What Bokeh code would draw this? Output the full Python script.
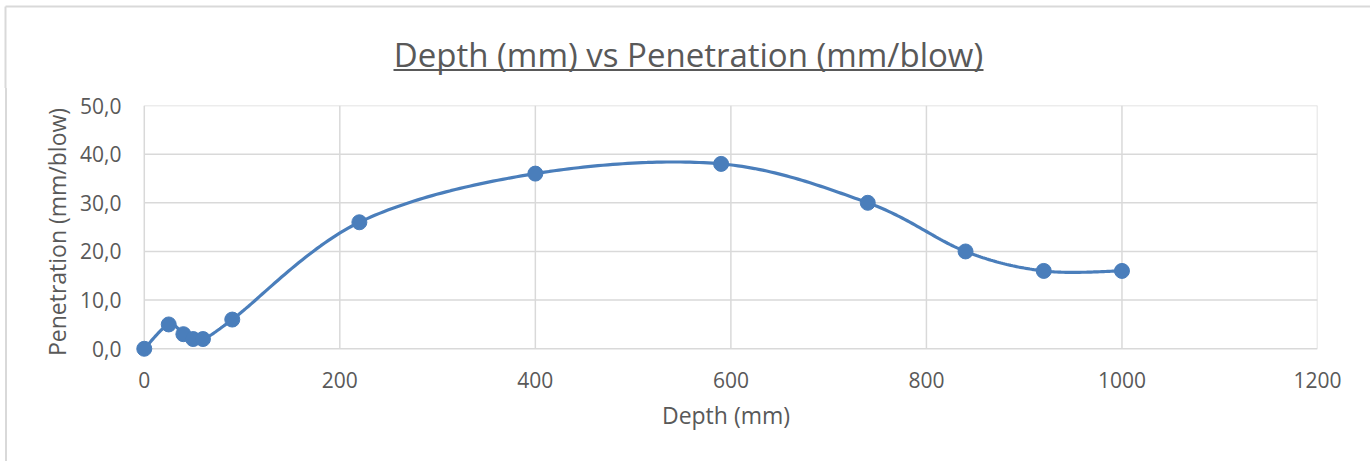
from bokeh.plotting import figure
from bokeh.layouts import column, row
from bokeh.models import Range1d, FixedTicker, CustomJSTickFormatter, Div
from bokeh.core.properties import value
from bokeh.embed import file_html
from bokeh.resources import INLINE
import numpy as np

# ---- data ----
depth_mm = [0, 25, 40, 50, 60, 90, 220, 400, 590, 740, 840, 920, 1000]
penetration = [0.0, 5.0, 3.0, 2.0, 2.0, 6.0, 26.0, 36.0, 38.0, 30.0, 20.0, 16.0, 16.0]
x_ticks = [0, 200, 400, 600, 800, 1000, 1200]
y_ticks = [0, 10, 20, 30, 40, 50]
title_text = "Depth (mm) vs Penetration (mm/blow)"
x_label = "Depth (mm)"
y_label = "Penetration (mm/blow)"

BLUE = "#4a7ebb"
GRID = "#d9d9d9"
TXT = "#595959"
FONT = "Open Sans"

# Excel-style smoothed line (Bezier through points, tension 1/6)
def smooth(xs, ys, n=40):
    P = np.column_stack([xs, ys]).astype(float)
    m = len(P)
    out = []
    for i in range(m - 1):
        p0 = P[i - 1] if i > 0 else P[i]
        p1 = P[i]
        p2 = P[i + 1]
        p3 = P[i + 2] if i + 2 < m else P[i + 1]
        c1 = p1 + (p2 - p0) / 6.0
        c2 = p2 - (p3 - p1) / 6.0
        t = np.linspace(0, 1, n)[:, None]
        seg = ((1 - t) ** 3) * p1 + 3 * ((1 - t) ** 2) * t * c1 + 3 * (1 - t) * t ** 2 * c2 + t ** 3 * p2
        out.append(seg if i == 0 else seg[1:])
    S = np.vstack(out)
    return S[:, 0], S[:, 1]

sx, sy = smooth(depth_mm, penetration)

W, H = 1370, 461
TH = 88          # title band height
SW = 7           # left strip width (chart border)
MH = H - TH

def blank(width, height, xr, yr):
    f = figure(width=width, height=height, output_backend="svg", toolbar_location=None,
               x_range=xr, y_range=yr, min_border=0,
               x_axis_location=None, y_axis_location=None)
    f.xgrid.visible = False
    f.ygrid.visible = False
    f.outline_line_color = None
    f.background_fill_color = "white"
    f.border_fill_color = "white"
    return f

# ---- title band ----
tf = blank(W, TH, Range1d(0, W), Range1d(TH, 0))
tf.text(x=[688], y=[54], text=[title_text], text_font=value(FONT), text_font_size="33px",
        text_color=TXT, text_align="center", text_baseline="alphabetic")
tf.segment(x0=[393], x1=[983], y0=[69.5], y1=[69.5], line_color=TXT, line_width=2)
tf.segment(x0=[5, 5], x1=[W, 5], y0=[6, 6], y1=[6, TH], line_color=GRID, line_width=2)

# ---- left strip with chart border ----
strip = Div(text="", width=SW, height=MH, margin=0,
            styles={"box-sizing": "border-box", "border-right": "2px solid #d9d9d9",
                    "background": "white"})

# ---- main chart ----
p = figure(width=W - SW, height=MH, output_backend="svg", toolbar_location=None,
           x_range=Range1d(-10, 1200), y_range=Range1d(-2, 50),
           min_border_left=134 - SW, min_border_right=53, min_border_top=105 - TH,
           min_border_bottom=H - 358)
p.outline_line_color = None
p.background_fill_color = "white"
p.border_fill_color = "white"
p.xgrid.visible = False
p.ygrid.visible = False

for ax in (p.xaxis[0], p.yaxis[0]):
    ax.axis_line_color = None
    ax.major_tick_line_color = None
    ax.minor_tick_line_color = None
    ax.major_label_text_font = FONT
    ax.major_label_text_color = TXT
    ax.major_label_text_font_size = "21px"
    ax.axis_label_text_font = FONT
    ax.axis_label_text_color = TXT
    ax.axis_label_text_font_size = "23px"
    ax.axis_label_text_font_style = "normal"

p.xaxis.ticker = FixedTicker(ticks=x_ticks)
p.yaxis.ticker = FixedTicker(ticks=y_ticks)
p.yaxis.formatter = CustomJSTickFormatter(code="return tick.toFixed(1).replace('.', ',');")
p.xaxis.major_label_standoff = 7
p.yaxis.major_label_standoff = 7
p.xaxis.axis_label = x_label
p.yaxis.axis_label = y_label
p.xaxis.axis_label_standoff = 8
p.yaxis.axis_label_standoff = 4

# gridlines drawn from the tick arrays
x0, x1 = x_ticks[0], x_ticks[-1]
y0, y1 = y_ticks[0], y_ticks[-1]
p.segment(x0=x_ticks, x1=x_ticks, y0=[y0] * len(x_ticks), y1=[y1] * len(x_ticks),
          line_color=GRID, line_width=1.5)
p.segment(x0=[x0] * len(y_ticks), x1=[x1] * len(y_ticks), y0=y_ticks, y1=y_ticks,
          line_color=GRID, line_width=1.5)

p.line(sx, sy, line_color=BLUE, line_width=3.2)
p.scatter(depth_mm, penetration, size=15, fill_color=BLUE, line_color=BLUE)

layout = column(tf, row(strip, p, spacing=0), spacing=0)
open("out.html", "w").write(file_html(layout, INLINE))
